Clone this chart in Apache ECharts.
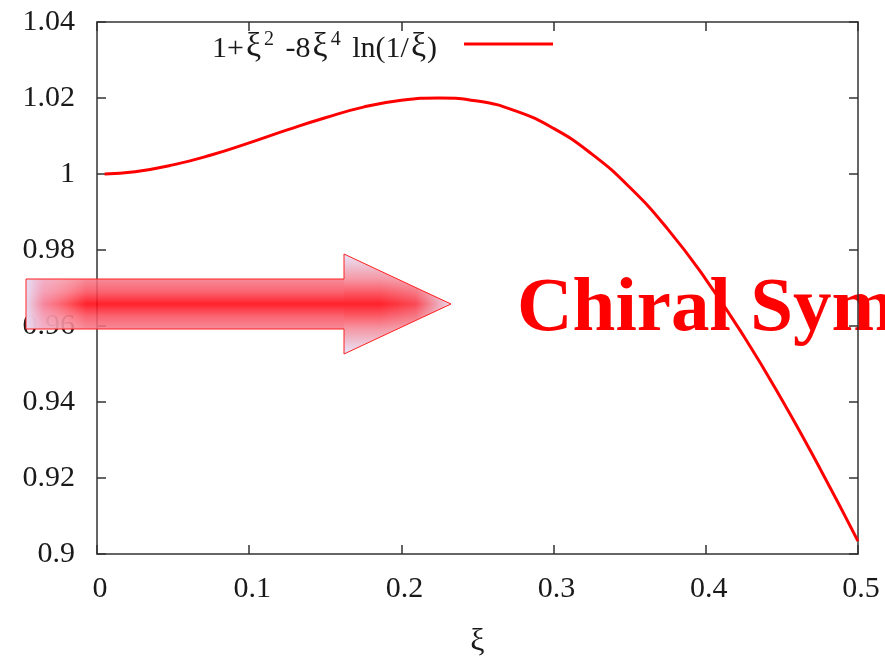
<!DOCTYPE html>
<html>
<head>
<meta charset="utf-8">
<script src="https://cdn.jsdelivr.net/npm/echarts@6/dist/echarts.min.js"></script>
<style>
html,body{margin:0;padding:0;background:#fff;}
#main{width:885px;height:656px;}
</style>
</head>
<body>
<div id="main"></div>
<script>
// Data
const xiValues = [0.005, 0.025, 0.05, 0.075, 0.1, 0.125, 0.15, 0.175, 0.2, 0.225, 0.25, 0.275, 0.3, 0.325, 0.35, 0.375, 0.4, 0.425, 0.45, 0.475, 0.5];
const fValues = [1.0000, 1.0006, 1.0024, 1.0050, 1.0082, 1.0116, 1.0148, 1.0176, 1.0194, 1.0200, 1.0192, 1.0166, 1.0120, 1.0053, 0.9965, 0.9855, 0.9723, 0.9573, 0.9406, 0.9225, 0.9034];
const seriesName = '1+ξ^2 -8ξ^4 ln(1/ξ)';
const xAxisName = 'ξ';
const bannerText = 'Chiral Symmetry';

const FONT = '"Liberation Serif", "Times New Roman", serif';
const TXT = '#1a1a1a';
const AX = '#333333';

const chart = echarts.init(document.getElementById('main'), null, {renderer: 'canvas'});

const frameAxis = {
  axisLine: {show: true, onZero: false, lineStyle: {color: AX, width: 1.5}},
  axisTick: {show: true, inside: true, length: 9, lineStyle: {color: AX, width: 1.5}},
  splitLine: {show: false}
};

const LAV = 'rgba(226,226,250,0.85)';

const option = {
  backgroundColor: '#ffffff',
  animation: false,
  grid: {left: 97, right: 27, top: 22, bottom: 102, containLabel: false, outerBoundsMode: 'none'},
  legend: {
    data: [seriesName],
    left: 207,
    top: 25,
    align: 'right',
    icon: 'rect',
    itemWidth: 89,
    itemHeight: 3,
    itemGap: 0,
    formatter: function () {
      return '{a|1+}{x|ξ}{s|2}{a| -8}{x|ξ}{s|4}{a| ln(1/}{x|ξ}{a|)}{p|}';
    },
    textStyle: {
      padding: [6, 0, 0, 0],
      rich: {
        a: {fontFamily: FONT, fontSize: 30, color: TXT, lineHeight: 34, verticalAlign: 'bottom'},
        x: {fontFamily: FONT, fontSize: 34, color: TXT, lineHeight: 34, verticalAlign: 'bottom', padding: [0, 1, 0, 2]},
        s: {fontFamily: FONT, fontSize: 20, color: TXT, lineHeight: 24, verticalAlign: 'top', padding: [0, 4, 0, 2]},
        p: {width: 22}
      }
    }
  },
  xAxis: [
    Object.assign({
      type: 'value', position: 'bottom', min: 0, max: 0.5, interval: 0.1,
      name: xAxisName, nameLocation: 'middle', nameGap: 72,
      nameTextStyle: {fontFamily: FONT, fontSize: 32, color: TXT},
      axisLabel: {
        show: true, margin: 20, fontFamily: FONT, fontSize: 30, color: TXT,
        padding: [0, 0, 0, 6],
        formatter: v => String(+v.toFixed(2))
      }
    }, frameAxis),
    Object.assign({
      type: 'value', position: 'top', min: 0, max: 0.5, interval: 0.1,
      axisLabel: {show: false}
    }, frameAxis)
  ],
  yAxis: [
    Object.assign({
      type: 'value', position: 'left', min: 0.9, max: 1.04, interval: 0.02,
      axisLabel: {
        show: true, margin: 22, fontFamily: FONT, fontSize: 30, color: TXT,
        formatter: v => String(+v.toFixed(2))
      }
    }, frameAxis),
    Object.assign({
      type: 'value', position: 'right', min: 0.9, max: 1.04, interval: 0.02,
      axisLabel: {show: false}
    }, frameAxis)
  ],
  series: [{
    name: seriesName,
    type: 'line',
    xAxisIndex: 0,
    yAxisIndex: 0,
    data: xiValues.map((x, i) => [x, fValues[i]]),
    smooth: true,
    showSymbol: false,
    symbol: 'none',
    lineStyle: {color: '#ff0000', width: 3},
    itemStyle: {color: '#ff0000'},
    z: 3
  }],
  graphic: [
    {
      type: 'text', z: -1,
      style: {
        text: bannerText, x: 517, y: 310,
        font: 'bold 77px ' + FONT,
        fill: '#ff0000', verticalAlign: 'middle', align: 'left'
      }
    },
    // arrow body
    {
      type: 'rect', z: 10,
      shape: {x: 26, y: 279, width: 318, height: 50},
      style: {
        fill: {
          type: 'linear', x: 0, y: 0, x2: 0, y2: 1,
          colorStops: [
            {offset: 0, color: 'rgba(244,120,135,0.86)'},
            {offset: 0.25, color: 'rgba(250,80,95,0.88)'},
            {offset: 0.5, color: 'rgba(255,10,20,0.9)'},
            {offset: 0.75, color: 'rgba(250,80,95,0.88)'},
            {offset: 1, color: 'rgba(244,120,135,0.86)'}
          ]
        }
      }
    },
    // arrow head
    {
      type: 'polygon', z: 10,
      shape: {points: [[344, 254], [451, 304], [344, 354]]},
      style: {
        fill: {
          type: 'linear', x: 0, y: 0, x2: 0, y2: 1,
          colorStops: [
            {offset: 0, color: LAV},
            {offset: 0.25, color: 'rgba(244,135,150,0.86)'},
            {offset: 0.5, color: 'rgba(255,10,20,0.9)'},
            {offset: 0.75, color: 'rgba(244,135,150,0.86)'},
            {offset: 1, color: LAV}
          ]
        }
      }
    },
    // left-end fade
    {
      type: 'rect', z: 11,
      shape: {x: 26, y: 279, width: 60, height: 50},
      style: {
        fill: {
          type: 'linear', x: 0, y: 0, x2: 1, y2: 0,
          colorStops: [
            {offset: 0, color: 'rgba(228,228,250,0.95)'},
            {offset: 0.3, color: 'rgba(240,200,230,0.6)'},
            {offset: 1, color: 'rgba(255,255,255,0)'}
          ]
        }
      }
    },
    // tip fade
    {
      type: 'polygon', z: 11,
      shape: {points: [[380, 271], [451, 304], [380, 337]]},
      style: {
        fill: {
          type: 'linear', x: 0, y: 0, x2: 1, y2: 0,
          colorStops: [
            {offset: 0, color: 'rgba(230,230,250,0)'},
            {offset: 0.5, color: 'rgba(230,230,250,0.2)'},
            {offset: 1, color: 'rgba(230,230,250,0.95)'}
          ]
        }
      }
    },
    // outline
    {
      type: 'polygon', z: 12,
      shape: {points: [[26, 279], [344, 279], [344, 254], [451, 304], [344, 354], [344, 329], [26, 329]]},
      style: {fill: 'none', stroke: '#ff2020', lineWidth: 1}
    }
  ]
};

chart.setOption(option);
</script>
</body>
</html>
